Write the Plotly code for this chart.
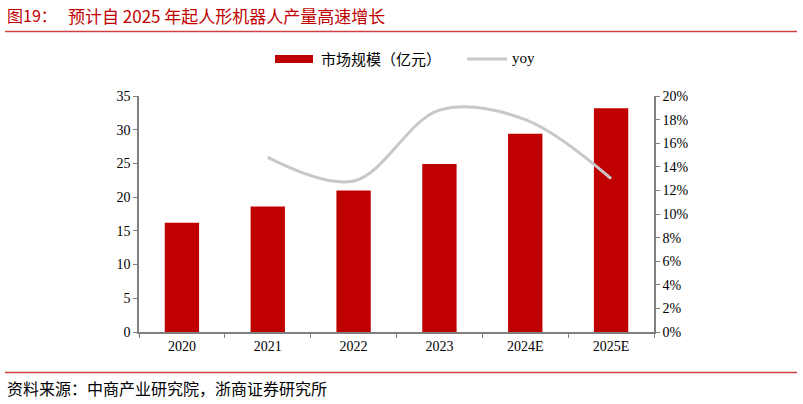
import plotly.graph_objects as go

# Daten
years = ["2020", "2021", "2022", "2023", "2024E", "2025E"]
market_size = [16.2, 18.6, 21.0, 24.9, 29.4, 33.2]  # 亿元
yoy_years = ["2021", "2022", "2023", "2024E", "2025E"]
yoy = [0.148, 0.128, 0.188, 0.180, 0.130]

left_ticks = [0, 5, 10, 15, 20, 25, 30, 35]
right_ticks = [0, 0.02, 0.04, 0.06, 0.08, 0.10, 0.12, 0.14, 0.16, 0.18, 0.20]

W, H = 803, 404
L, R, T, B = 139, 654, 96, 332  # Plotbereich in Pixel

RED = "#C00000"
GREY = "#808080"
SERIF = "Liberation Serif, Times New Roman, Noto Sans CJK SC"
CJK = "Noto Sans CJK SC, Liberation Serif"


def px(x):
    return (x - L) / (R - L)


def py(y):
    return (B - y) / (B - T)


fig = go.Figure()

fig.add_trace(go.Bar(x=years, y=market_size, name="市场规模（亿元）",
                     marker=dict(color=RED, line=dict(width=0)), width=0.4,
                     yaxis="y"))

fig.add_trace(go.Scatter(x=yoy_years, y=yoy, name="yoy", mode="lines",
                         line=dict(color="#C8C8C8", width=3, shape="spline", smoothing=1.0),
                         yaxis="y2"))

fig.update_layout(
    width=W, height=H,
    margin=dict(l=L, r=W - R, t=T, b=H - B),
    paper_bgcolor="white", plot_bgcolor="white",
    showlegend=False,
    font=dict(family=SERIF, size=14, color="#000000"),
    xaxis=dict(type="category", showline=True, linecolor=GREY, linewidth=1.5,
               ticks="outside", tickson="boundaries", ticklen=4, tickcolor=GREY,
               showgrid=False, tickfont=dict(family=SERIF, size=14)),
    yaxis=dict(range=[0, 35], tickvals=left_ticks, showline=True, linecolor=GREY,
               linewidth=1.5, ticks="outside", ticklen=4, tickcolor=GREY,
               showgrid=False, zeroline=False, tickfont=dict(family=SERIF, size=14)),
    yaxis2=dict(range=[0, 0.20], tickvals=right_ticks, tickformat=".0%",
                overlaying="y", side="right", showline=True, linecolor=GREY,
                linewidth=1.5, ticks="outside", ticklen=4, tickcolor=GREY,
                showgrid=False, zeroline=False, tickfont=dict(family=SERIF, size=14)),
)

# Legende von Hand
shapes = [
    dict(type="rect", xref="paper", yref="paper", x0=px(275), x1=px(313),
         y0=py(63), y1=py(55), fillcolor=RED, line=dict(width=0)),
    dict(type="line", xref="paper", yref="paper", x0=px(467), x1=px(507),
         y0=py(59), y1=py(59), line=dict(color="#C8C8C8", width=3)),
    # rote Linien oben und unten
    dict(type="line", xref="paper", yref="paper", x0=px(5), x1=px(797),
         y0=py(31.5), y1=py(31.5), line=dict(color="#D04040", width=1.5)),
    dict(type="line", xref="paper", yref="paper", x0=px(5), x1=px(797),
         y0=py(372.5), y1=py(372.5), line=dict(color="#D04040", width=1.5)),
]
fig.update_layout(shapes=shapes)

annotations = [
    dict(text="市场规模（亿元）", x=px(319), y=py(59), xanchor="left", yanchor="middle",
         font=dict(family=CJK, size=15, color="#000000")),
    dict(text="yoy", x=px(510), y=py(58), xanchor="left", yanchor="middle",
         font=dict(family=SERIF, size=15, color="#000000")),
    dict(text="图19：", x=px(5), y=py(15), xanchor="left", yanchor="middle",
         font=dict(family=CJK, size=16, color=RED)),
    dict(text="预计自 2025 年起人形机器人产量高速增长", x=px(66), y=py(15),
         xanchor="left", yanchor="middle",
         font=dict(family=CJK, size=17, color=RED)),
    dict(text="资料来源：中商产业研究院，浙商证券研究所", x=px(5), y=py(388),
         xanchor="left", yanchor="middle",
         font=dict(family=CJK, size=16, color="#000000")),
]
for a in annotations:
    a.update(xref="paper", yref="paper", showarrow=False)
fig.update_layout(annotations=annotations)

# Seitenrand des Browsers entfernen, sonst ist alles um 8px verschoben
fig.write_html("out.html", config={"displayModeBar": False},
               post_script="document.body.style.margin='0';")
